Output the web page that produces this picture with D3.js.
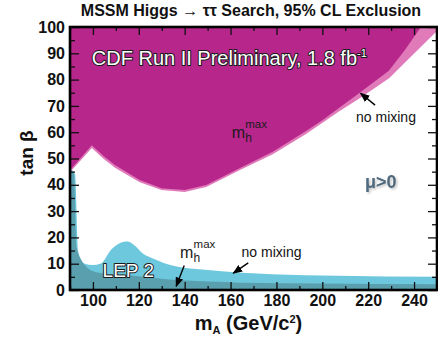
<!DOCTYPE html>
<html>
<head>
<meta charset="utf-8">
<script src="https://cdn.jsdelivr.net/npm/d3@7"></script>
<style>
body { margin: 0; background: #fff; }
text { font-family: Arial, "Liberation Sans", sans-serif; }
</style>
</head>
<body>
<div id="graphic"></div>
<script>
// axis ticks
const xTicks = [100, 120, 140, 160, 180, 200, 220, 240];
const yTicks = [0, 10, 20, 30, 40, 50, 60, 70, 80, 90, 100];

// CDF exclusion boundaries [mA, tanBeta] (excluded above)
const cdfMhmax = [[90, 45.5], [99.5, 55], [104.5, 51], [109.6, 47.5], [120.4, 41.8], [129.9, 38.7],
  [140, 38], [149.4, 39.9], [163.9, 46.3], [178.4, 52.6], [192.9, 60.5], [200, 64.5],
  [207.4, 69.3], [216, 74.8], [229, 83.4], [236, 91.3], [243, 100]];
const cdfNoMixing = [[90, 44.8], [99.5, 54], [104.5, 50], [109.6, 46.5], [120.4, 41], [129.9, 38],
  [140, 37.3], [149.4, 39.2], [163.9, 45.5], [178.4, 51.6], [192.9, 59.3], [207.4, 68],
  [216.8, 73.2], [229.1, 80.5], [238.6, 88.7], [250, 98.5]];

// LEP 2 exclusion boundaries [mA, tanBeta] (excluded below)
const lepMhmax = [[90, 46], [91.7, 44.5], [93, 16], [94.9, 11.4], [97, 8.9], [99.7, 7.2],
  [104, 6.4], [110, 6], [120, 5.2], [129, 4.4], [135, 3.9], [150, 3.2], [164, 2.8],
  [200, 2.5], [250, 2.2]];
const lepNoMixing = [[90, 46], [92.2, 44], [93.6, 14.5], [96.2, 10.1], [99.9, 9.5], [103.5, 10.1],
  [107.8, 15.2], [111.4, 17.7], [115, 18.4], [117.9, 17.1], [121.6, 14], [126.7, 11.8],
  [135, 9.2], [150, 7.6], [165, 6.6], [178, 6], [207, 5.4], [250, 5]];

const graphicWidth = 438;
const graphicHeight = 341;
const margin = {top: 27, right: 1, bottom: 51, left: 70};
const plotWidth = graphicWidth - margin.left - margin.right;
const plotHeight = graphicHeight - margin.top - margin.bottom;

const svg = d3.select("#graphic")
    .append("svg")
    .attr("width", graphicWidth)
    .attr("height", graphicHeight);

const defs = svg.append("defs");
defs.append("clipPath").attr("id", "plotClip")
    .append("rect").attr("width", plotWidth).attr("height", plotHeight);
defs.append("marker")
    .attr("id", "arrow")
    .attr("viewBox", "0 0 10 10")
    .attr("refX", 9).attr("refY", 5)
    .attr("markerWidth", 7).attr("markerHeight", 7)
    .attr("orient", "auto")
    .append("path").attr("d", "M0,1L10,5L0,9Z").attr("fill", "#000");
const shadow = defs.append("filter").attr("id", "shadow")
    .attr("x", "-20%").attr("y", "-20%").attr("width", "150%").attr("height", "150%");
shadow.append("feDropShadow")
    .attr("dx", 1.5).attr("dy", 1.5).attr("stdDeviation", 1.2)
    .attr("flood-color", "#777").attr("flood-opacity", 0.45);

const plot = svg.append("g")
    .attr("transform", "translate(" + margin.left + "," + margin.top + ")");

const x = d3.scaleLinear().domain([90, 250]).range([0, plotWidth]);
const y = d3.scaleLinear().domain([0, 100]).range([plotHeight, 0]);

const fills = plot.append("g").attr("clip-path", "url(#plotClip)");

// CDF regions: fill from curve up to the top
const cdfArea = d3.area()
    .x(d => x(d[0]))
    .y0(0)
    .y1(d => y(d[1]));
fills.append("path").datum(cdfNoMixing).attr("fill", "#e07ab9").attr("d", cdfArea);
fills.append("path").datum(cdfMhmax).attr("fill", "#b6268b").attr("d", cdfArea);

// LEP regions: fill from curve down to zero
const lepArea = d3.area()
    .curve(d3.curveMonotoneX)
    .x(d => x(d[0]))
    .y0(plotHeight)
    .y1(d => y(d[1]));
fills.append("path").datum(lepNoMixing).attr("fill", "#6dc8de").attr("d", lepArea);
fills.append("path").datum(lepMhmax).attr("fill", "#5a9fae").attr("d", lepArea);

// ticks on all four sides, pointing inwards
const xMinor = d3.range(90, 251, 10).filter(v => xTicks.indexOf(v) < 0);
const yMinor = d3.range(5, 100, 10);

function styleAxis(g) {
    g.select(".domain").remove();
    g.selectAll(".tick line").attr("stroke", "#111").attr("stroke-width", 1.3);
    g.selectAll("text")
        .attr("fill", "#111")
        .style("font-size", "16px")
        .style("font-weight", "bold");
}

plot.append("g").attr("transform", "translate(0," + plotHeight + ")")
    .call(d3.axisBottom(x).tickValues(xTicks).tickSize(-8).tickPadding(5))
    .call(styleAxis);
plot.append("g").attr("transform", "translate(0," + plotHeight + ")")
    .call(d3.axisBottom(x).tickValues(xMinor).tickSize(-4).tickFormat(""))
    .call(styleAxis);
plot.append("g")
    .call(d3.axisTop(x).tickValues(xTicks).tickSize(-8).tickFormat(""))
    .call(styleAxis);
plot.append("g")
    .call(d3.axisTop(x).tickValues(xMinor).tickSize(-4).tickFormat(""))
    .call(styleAxis);
plot.append("g")
    .call(d3.axisLeft(y).tickValues(yTicks).tickSize(-9).tickPadding(5))
    .call(styleAxis);
plot.append("g")
    .call(d3.axisLeft(y).tickValues(yMinor).tickSize(-5).tickFormat(""))
    .call(styleAxis);
plot.append("g").attr("transform", "translate(" + plotWidth + ",0)")
    .call(d3.axisRight(y).tickValues(yTicks).tickSize(-9).tickFormat(""))
    .call(styleAxis);
plot.append("g").attr("transform", "translate(" + plotWidth + ",0)")
    .call(d3.axisRight(y).tickValues(yMinor).tickSize(-5).tickFormat(""))
    .call(styleAxis);

// frame
plot.append("rect")
    .attr("width", plotWidth).attr("height", plotHeight)
    .attr("fill", "none").attr("stroke", "#000").attr("stroke-width", 2.6);

// outlined labels
const cdfLabel = plot.append("text")
    .attr("x", x(99.5)).attr("y", y(85.5))
    .attr("fill", "#fff").attr("stroke", "#1a1a1a").attr("stroke-width", 2)
    .attr("paint-order", "stroke").attr("stroke-linejoin", "round")
    .style("font-size", "20px")
    .text("CDF Run II Preliminary, 1.8 fb");
cdfLabel.append("tspan").attr("dy", -8).style("font-size", "11px").text("-1");

plot.append("text")
    .attr("x", x(104.2)).attr("y", y(5))
    .attr("fill", "#fff").attr("stroke", "#1a1a1a").attr("stroke-width", 2)
    .attr("paint-order", "stroke").attr("stroke-linejoin", "round")
    .style("font-size", "19px")
    .text("LEP 2");

// m_h^max labels: base letter, subscript and superscript as separate texts
function mhmaxLabel(mA, tb) {
    const px = x(mA), py = y(tb);
    plot.append("text").attr("x", px).attr("y", py)
        .attr("fill", "#1a1a1a").style("font-size", "16px").text("m");
    plot.append("text").attr("x", px + 13.5).attr("y", py + 4)
        .attr("fill", "#1a1a1a").style("font-size", "12px").text("h");
    plot.append("text").attr("x", px + 13.5).attr("y", py - 10)
        .attr("fill", "#1a1a1a").style("font-size", "11.5px").text("max");
}
mhmaxLabel(160.5, 57.7);
mhmaxLabel(138, 12);

plot.append("text")
    .attr("x", x(214.7)).attr("y", y(64))
    .attr("fill", "#111").style("font-size", "14px")
    .text("no mixing");
plot.append("text")
    .attr("x", x(164.8)).attr("y", y(12.7))
    .attr("fill", "#111").style("font-size", "14px")
    .text("no mixing");

// arrows
const arrows = [
    [[223, 70.3], [216.7, 74.8]],
    [[139.8, 9.3], [136.3, 1.4]],
    [[167.7, 10.3], [161.2, 6.4]]
];
plot.selectAll(".arrow")
    .data(arrows)
    .join("line")
    .attr("class", "arrow")
    .attr("x1", d => x(d[0][0])).attr("y1", d => y(d[0][1]))
    .attr("x2", d => x(d[1][0])).attr("y2", d => y(d[1][1]))
    .attr("stroke", "#000").attr("stroke-width", 1.4)
    .attr("marker-end", "url(#arrow)");

plot.append("text")
    .attr("x", x(218.6)).attr("y", y(38.7))
    .attr("fill", "#4f6a7e").attr("filter", "url(#shadow)")
    .style("font-size", "18px").style("font-weight", "bold")
    .text("μ>0");

// titles
svg.append("text")
    .attr("x", 251).attr("y", 16)
    .attr("text-anchor", "middle")
    .attr("fill", "#111")
    .style("font-size", "16px").style("font-weight", "bold")
    .text("MSSM Higgs \u2192 \u03c4\u03c4 Search, 95% CL Exclusion");

const xTitle = svg.append("text")
    .attr("x", margin.left + plotWidth / 2 - 5).attr("y", 330)
    .attr("text-anchor", "middle")
    .attr("fill", "#111")
    .style("font-size", "20px").style("font-weight", "bold")
    .text("m");
xTitle.append("tspan").attr("dy", 4).style("font-size", "11px").text("A");
xTitle.append("tspan").attr("dy", -4).text(" (GeV/c");
xTitle.append("tspan").attr("dy", -7).style("font-size", "11px").text("2");
xTitle.append("tspan").attr("dy", 7).text(")");

svg.append("text")
    .attr("transform", "translate(33,153) rotate(-90)")
    .attr("text-anchor", "middle")
    .attr("fill", "#111")
    .style("font-size", "19px").style("font-weight", "bold")
    .text("tan \u03b2");
</script>
</body>
</html>
